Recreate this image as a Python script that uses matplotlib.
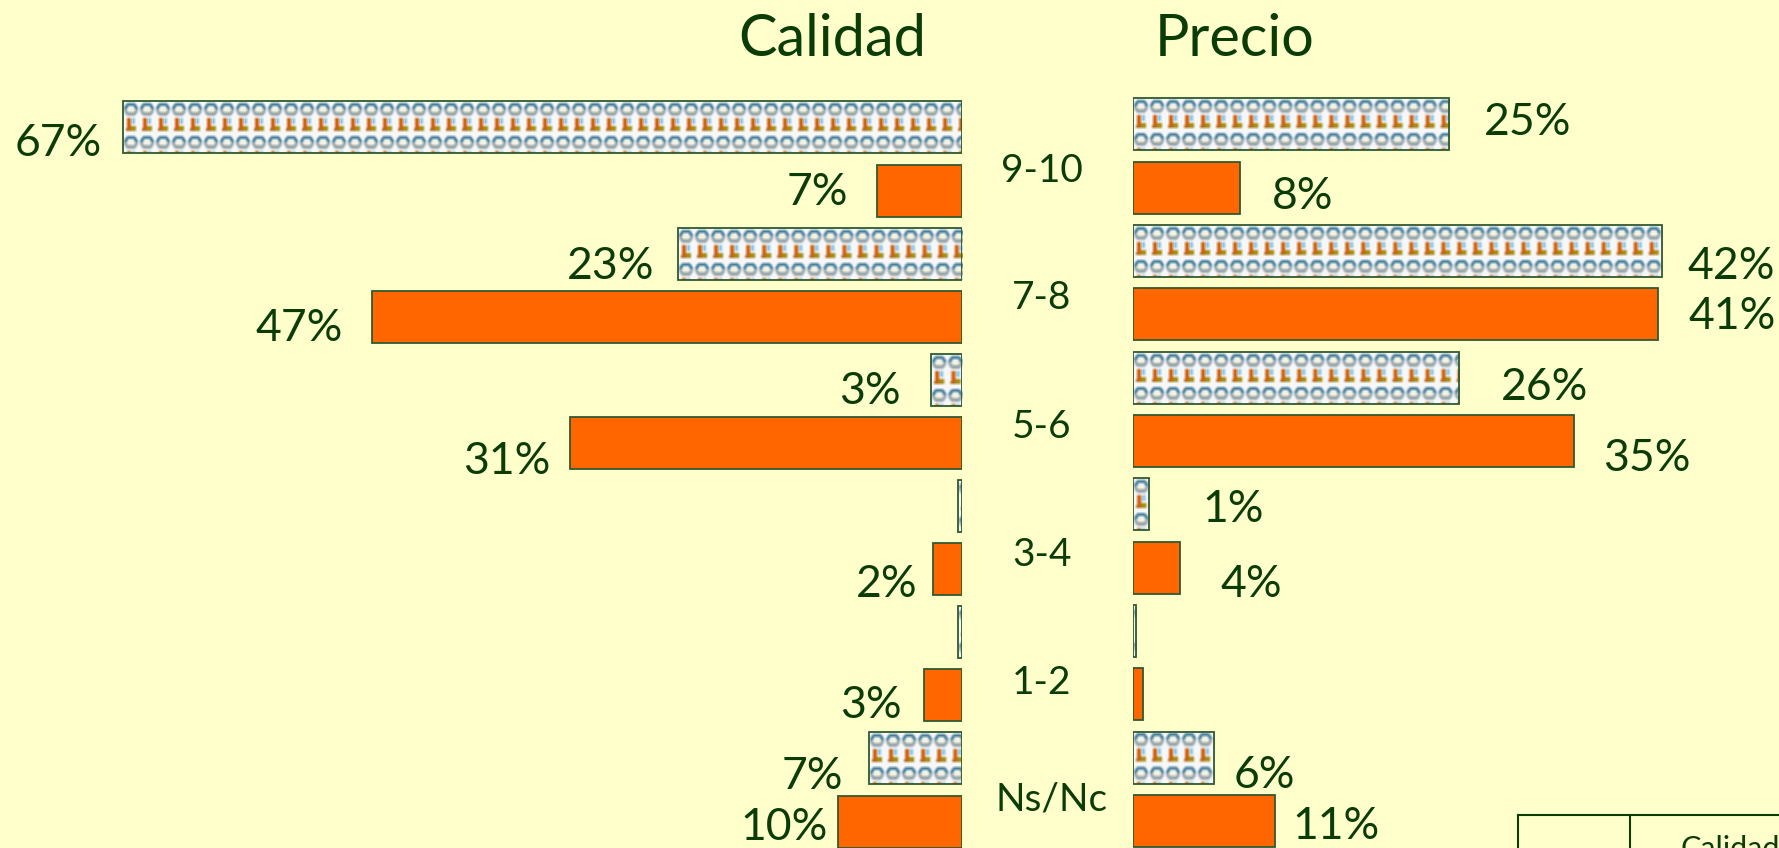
#!/usr/bin/env python3

# Calidad / Precio butterfly bars, picture filled bars on top of orange ones.

import matplotlib
matplotlib.use("Agg")
import matplotlib.pyplot as plt
from matplotlib.lines import Line2D
import numpy as np

categories = ["9-10", "7-8", "5-6", "3-4", "1-2", "Ns/Nc"]

calidad_pic = [67.0, 22.7, 2.5, 0.3, 0.3, 7.4]
calidad_org = [6.8, 47.1, 31.3, 2.3, 3.0, 9.9]
precio_pic = [25.1, 42.0, 25.9, 1.3, 0.3, 6.5]
precio_org = [8.5, 41.7, 35.0, 3.8, 0.8, 11.3]

calidad_pic_labels = ["67%", "23%", "3%", "", "", "7%"]
calidad_org_labels = ["7%", "47%", "31%", "2%", "3%", "10%"]
precio_pic_labels = ["25%", "42%", "26%", "1%", "", "6%"]
precio_org_labels = ["8%", "41%", "35%", "4%", "", "11%"]

# label nudges in figure pixels: gap from the bar end, drop from the bar centre
cal_pic_gap = [21, 23, 30, 0, 0, 26]
cal_pic_dy = [16, 13, 12, 0, 0, 18]
cal_org_gap = [29, 29, 20, 16, 23, 10]
cal_org_dy = [2, 12, 19, 15, 10, 6]
pre_pic_gap = [35, 26, 42, 54, 0, 19]
pre_pic_dy = [-2, 15, 10, 5, 0, 18]
pre_org_gap = [32, 31, 30, 40, 0, 18]
pre_org_dy = [9, 2, 17, 17, 0, 5]

BG = "#FFFFCC"
ORANGE = "#FF6600"
EDGE = "#2F5A2F"
INK = "#0C3C06"
W, H = 1779, 848

plt.rcParams["font.family"] = ["Lato", "DejaVu Sans"]


def make_tile():
    # one little figure: head on top, orange body below, then softened
    th, tw = 33, 16
    yy, xx = np.mgrid[0:th, 0:tw]
    img = np.ones((th, tw, 3)) * 0.97
    r = np.hypot(xx - 7.5, yy - 8)
    img[(r < 7) & (yy < 8)] = (0.28, 0.50, 0.62)
    img[(r < 7) & (yy >= 8) & (yy < 15)] = (0.60, 0.66, 0.70)
    img[(r < 4) & (yy > 4) & (yy < 11)] = (0.95, 0.95, 0.90)
    img[(r < 4) & (yy >= 11) & (yy < 15)] = (0.66, 0.68, 0.56)
    img[(yy >= 17) & (yy < 27) & (xx >= 4) & (xx < 8)] = (0.82, 0.38, 0.06)
    img[(yy >= 17) & (yy < 23) & (xx >= 9) & (xx < 12)] = (0.50, 0.78, 0.92)
    img[(yy >= 25) & (yy < 30) & (xx >= 8) & (xx < 13)] = (0.65, 0.56, 0.10)
    img[(yy >= 27) & (yy < 30) & (xx >= 3) & (xx < 8)] = (0.72, 0.42, 0.10)
    soft = np.zeros_like(img)
    for dy in (-1, 0, 1):
        for dx in (-1, 0, 1):
            soft += np.roll(np.roll(img, dy, axis=0), dx, axis=1)
    return soft / 9


tile = make_tile()


def side(pos, px_per, center_px, pitch_px, flip, pic, org, pic_lab, org_lab,
         pic_gap, pic_dy, org_gap, org_dy, tops):
    x0, x1 = pos
    ax = fig.add_axes([x0 / W, 0, (x1 - x0) / W, 1])
    span = (x1 - x0) / px_per
    ax.set_xlim(span, 0) if flip else ax.set_xlim(0, span)
    ax.set_ylim((H - center_px) / pitch_px, -center_px / pitch_px)
    ax.axis("off")

    y = np.arange(len(pic))
    h = 52 / pitch_px
    ax.barh(y - tops[0], pic, height=h, color="white", zorder=1)
    ax.barh(y + tops[1], org, height=h, color=ORANGE, edgecolor=EDGE, linewidth=1.3, zorder=2)
    outlines = ax.barh(y - tops[0], pic, height=h, fill=False, edgecolor=EDGE, linewidth=1.3, zorder=3)

    # repeat the tile over every picture bar, starting at its left end on screen
    tw = tile.shape[1] / px_per
    th = tile.shape[0] / pitch_px
    for i, v in enumerate(pic):
        nx = int(np.ceil(v / tw)) + 1
        img = np.tile(tile, (2, nx, 1))
        left = v if flip else 0
        right = left - nx * tw if flip else left + nx * tw
        top = y[i] - tops[0] - h / 2
        im = ax.imshow(img, extent=(left, right, top + 2 * th, top), aspect="auto",
                       interpolation="bilinear", zorder=2)
        im.set_clip_path(outlines[i])
    ax.set_xlim(span, 0) if flip else ax.set_xlim(0, span)
    ax.set_ylim((H - center_px) / pitch_px, -center_px / pitch_px)

    ha = "right" if flip else "left"
    sign = -1 if flip else 1
    for vals, labs, gaps, dys, off in ((pic, pic_lab, pic_gap, pic_dy, -tops[0]),
                                       (org, org_lab, org_gap, org_dy, tops[1])):
        for i, lab in enumerate(labs):
            if lab:
                ax.annotate(lab, (vals[i], y[i] + off), xytext=(sign * gaps[i], -dys[i]),
                            textcoords="offset pixels", ha=ha, va="center",
                            color=INK, fontsize=32)
    return ax


fig = plt.figure(figsize=(W / 100, H / 100), dpi=100, facecolor=BG)

side((0, 962), 12.52, 159, 126.2, True, calidad_pic, calidad_org,
     calidad_pic_labels, calidad_org_labels,
     cal_pic_gap, cal_pic_dy, cal_org_gap, cal_org_dy, (0.25, 0.25))
side((1132.5, W), 12.6, 156, 126.7, False, precio_pic, precio_org,
     precio_pic_labels, precio_org_labels,
     pre_pic_gap, pre_pic_dy, pre_org_gap, pre_org_dy, (0.25, 0.25))

fig.text(832 / W, 1 - 40 / H, "Calidad", ha="center", va="center", color=INK, fontsize=41.5)
fig.text(1235 / W, 1 - 40 / H, "Precio", ha="center", va="center", color=INK, fontsize=41.5)

cat_x = [1042, 1042, 1042, 1042, 1042, 1052]
cat_y = [171, 298.5, 426.5, 554.5, 682.5, 800]
for i, c in enumerate(categories):
    fig.text(cat_x[i] / W, 1 - cat_y[i] / H, c, ha="center", va="center", color=INK, fontsize=28)

# corner of the table that gets cut off by the slide edge
fig.add_artist(Line2D([1518 / W, 1], [1 - 815 / H, 1 - 815 / H], color=INK, lw=1.5))
fig.add_artist(Line2D([1518 / W, 1518 / W], [1 - 815 / H, 0], color=INK, lw=1.5))
fig.add_artist(Line2D([1630 / W, 1630 / W], [1 - 815 / H, 0], color=INK, lw=1.5))
fig.text(1680 / W, 1 - 835 / H, "Calidad", ha="left", va="top", color=INK, fontsize=22)

fig.savefig("out.png", dpi=100, facecolor=BG)
